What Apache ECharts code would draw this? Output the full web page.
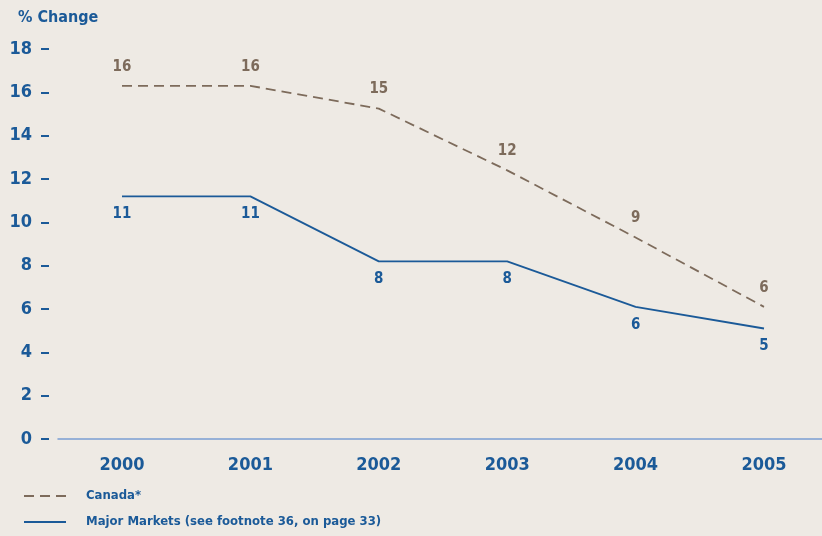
<!DOCTYPE html>
<html>
<head>
<meta charset="utf-8">
<script src="https://cdn.jsdelivr.net/npm/echarts@6/dist/echarts.min.js"></script>
<style>
html,body{margin:0;padding:0;background:#eeeae4;}
#chart{width:822px;height:536px;}
</style>
</head>
<body>
<div id="chart"></div>
<script>
var years = ['2000', '2001', '2002', '2003', '2004', '2005'];
var canada = [16.3, 16.3, 15.25, 12.4, 9.3, 6.1];
var majorMarkets = [11.2, 11.2, 8.2, 8.2, 6.1, 5.1];
var yTicks = [0, 2, 4, 6, 8, 10, 12, 14, 16, 18];
var seriesNames = ['Canada*', 'Major Markets (see footnote 36, on page 33)'];

var FONT = "'Liberation Sans Narrow', 'DejaVu Sans Condensed', sans-serif";
var BLUE = '#1b5a98';
var BROWN = '#7d6b5b';

var chart = echarts.init(document.getElementById('chart'), null, {renderer: 'canvas'});
chart.setOption({
  backgroundColor: '#eeeae4',
  animation: false,
  title: {
    text: '% Change',
    left: 13,
    top: 5,
    textStyle: {fontFamily: FONT, fontSize: 16, fontWeight: 'bold', color: BLUE}
  },
  legend: {
    orient: 'vertical',
    left: 23,
    top: 489,
    padding: 0,
    itemWidth: 42,
    itemHeight: 14,
    itemGap: 12,
    itemStyle: {opacity: 0},
    data: seriesNames,
    textStyle: {fontFamily: FONT, fontSize: 13, fontWeight: 'bold', color: BLUE, lineHeight: 14, padding: [0, 0, 0, 15]}
  },
  grid: [
    {left: 122, right: 58, top: 49, bottom: 97, containLabel: false},
    {left: 58, right: 0, top: 49, bottom: 97, containLabel: false}
  ],
  xAxis: [
    {
      type: 'category',
      gridIndex: 0,
      data: years,
      boundaryGap: false,
      axisLine: {show: false},
      axisTick: {show: false},
      axisLabel: {fontFamily: FONT, fontSize: 18, fontWeight: 'bold', color: BLUE, margin: 17}
    },
    {
      type: 'value',
      gridIndex: 1,
      min: 0,
      max: 1,
      splitLine: {show: false},
      axisTick: {show: false},
      axisLabel: {show: false},
      axisLine: {show: true, onZero: false, lineStyle: {color: '#7b9fd2', width: 1.5}}
    }
  ],
  yAxis: [
    {
      type: 'value',
      gridIndex: 0,
      min: yTicks[0],
      max: yTicks[yTicks.length - 1],
      interval: yTicks[1] - yTicks[0],
      offset: 73,
      splitLine: {show: false},
      axisLine: {show: false},
      axisTick: {show: true, length: 8, lineStyle: {color: BLUE, width: 2}},
      axisLabel: {fontFamily: FONT, fontSize: 18, fontWeight: 'bold', color: BLUE, margin: 17}
    },
    {
      type: 'value',
      gridIndex: 1,
      min: yTicks[0],
      max: yTicks[yTicks.length - 1],
      show: false
    }
  ],
  series: [
    {
      name: seriesNames[0],
      type: 'line',
      xAxisIndex: 0,
      yAxisIndex: 0,
      data: canada,
      symbol: 'circle',
      symbolSize: 1,
      showSymbol: true,
      lineStyle: {color: BROWN, width: 1.8, type: [10, 6]},
      itemStyle: {color: 'rgba(0,0,0,0)', borderWidth: 0},
      label: {
        show: true,
        position: 'top',
        distance: 11,
        formatter: function (p) { return Math.round(p.value); },
        fontFamily: FONT, fontSize: 15, fontWeight: 'bold', color: BROWN
      }
    },
    {
      name: seriesNames[1],
      type: 'line',
      xAxisIndex: 0,
      yAxisIndex: 0,
      data: majorMarkets,
      symbol: 'circle',
      symbolSize: 1,
      showSymbol: true,
      lineStyle: {color: BLUE, width: 1.8},
      itemStyle: {color: 'rgba(0,0,0,0)', borderWidth: 0},
      label: {
        show: true,
        position: 'bottom',
        distance: 10,
        formatter: function (p) { return Math.round(p.value); },
        fontFamily: FONT, fontSize: 15, fontWeight: 'bold', color: BLUE
      }
    }
  ]
});
</script>
</body>
</html>
